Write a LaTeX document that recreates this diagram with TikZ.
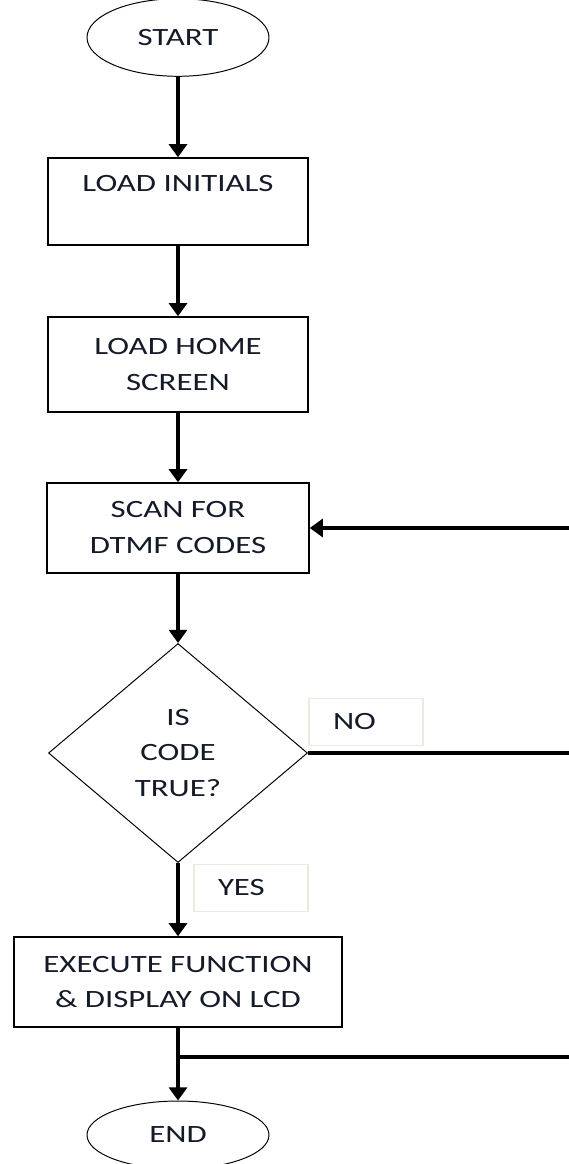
\documentclass[tikz,border=0pt]{standalone}
\usepackage{fontspec}
\setmainfont{Carlito}[FakeStretch=1.32]
\usepackage{xcolor}
\usetikzlibrary{shapes.geometric,arrows.meta}
\definecolor{ink}{HTML}{141A28}
\definecolor{tagline}{HTML}{EEEAE0}

\begin{document}
\begin{tikzpicture}[>={Triangle[length=0.33cm,width=0.45cm]},
		every node/.style={font=\fontsize{17.7}{25.6}\selectfont, text=ink, align=center},
		box/.style={draw, line width=1pt, inner sep=0pt, minimum width=6.5cm},
		term/.style={draw, ellipse, line width=0.7pt, inner sep=0pt, minimum width=4.55cm},
		decision/.style={draw, diamond, aspect=1.18, line width=0.7pt, inner sep=0pt, minimum width=6.475cm, minimum height=5.475cm},
		tag/.style={draw=tagline, line width=1pt, inner xsep=0.6cm, text width=1.65cm, align=left, minimum height=1.17cm},
		flow/.style={->, line width=3.1pt},
		link/.style={line width=3.1pt}]
		%\draw[help lines] (0,0) grid (14,-29);
		\useasboundingbox (0,0) rectangle (14.2,-29.1);
		
		\node[term, minimum height=1.94cm] (start) at (4.45,-0.9375) {START};
		\node[box, minimum height=2.175cm] (init) at (4.45,-5.0375) {LOAD INITIALS\\~};
		\node[box, minimum height=2.375cm] (home) at (4.45,-9.1125) {LOAD HOME\\SCREEN};
		\node[box, minimum width=6.55cm, minimum height=2.25cm] (scan) at (4.45,-13.2) {SCAN FOR\\DTMF CODES};
		\node[decision] (check) at (4.45,-18.825) {IS\\CODE\\TRUE?};
		\node[box, minimum width=8.2cm, minimum height=2.25cm] (exec) at (4.45,-24.55) {EXECUTE FUNCTION\\\& DISPLAY ON LCD};
		\node[term, minimum height=1.7cm] (end) at (4.45,-28.375) {END};
		
		\node[tag] (no) at (9.15,-18.05) {NO};
		\node[tag] (yes) at (6.275,-22.2) {YES};
		
		\coordinate (noexit) at (14.3,-18.825);%loops back off the page
		\coordinate (back) at (14.3,-13.2);
		\coordinate (join) at (4.45,-26.425);
		\coordinate (outlet) at (14.3,-26.425);
		
		\draw[flow] (start) -- (init);
		\draw[flow] (init) -- (home);
		\draw[flow] (home) -- (scan);
		\draw[flow] (scan) -- (check);
		\draw[flow] (check) -- (exec);
		\draw[flow] (exec) -- (end);
		
		\draw[link] (check.east) -- (noexit);
		\draw[flow] (back) -- (scan.east);
		\draw[link] (join) -- (outlet);
		\end{tikzpicture}
\end{document}
